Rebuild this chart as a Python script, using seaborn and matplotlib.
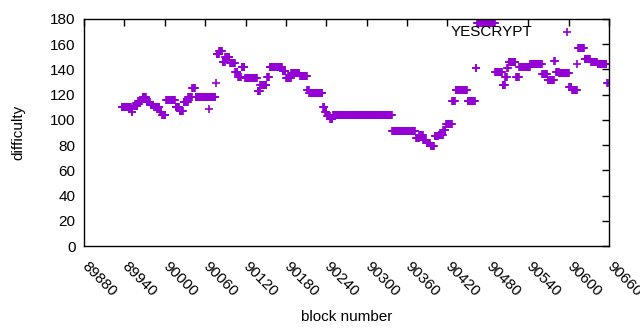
import numpy as np
import pandas as pd
import matplotlib
matplotlib.use("Agg")
import matplotlib.pyplot as plt
import seaborn as sns

# Runs of constant difficulty: first block of each run and its value
run_start = [89936, 89951, 89953, 89960, 89967, 89973, 89979, 89984, 89993, 89996,
             90002, 90016, 90022, 90028, 90035, 90041, 90046, 90065, 90066, 90076,
             90077, 90081, 90086, 90090, 90097, 90105, 90109, 90114, 90119, 90138,
             90142, 90152, 90156, 90175, 90180, 90188, 90201, 90212, 90215, 90235,
             90238, 90241, 90246, 90250, 90338, 90373, 90378, 90384, 90389, 90395,
             90401, 90407, 90414, 90418, 90427, 90432, 90450, 90462, 90464, 90491,
             90502, 90506, 90509, 90511, 90522, 90527, 90543, 90561, 90569, 90579,
             90581, 90586, 90601, 90605, 90613, 90614, 90624, 90633, 90643, 90657]
run_value = [110, 106, 111, 115, 118, 114, 112, 110, 106, 104,
             116, 110, 107, 114, 118, 125, 118, 109, 118, 129,
             152, 155, 146, 150, 145, 138, 134, 142, 133, 123,
             128, 134, 142, 139, 133, 137, 135, 124, 121, 110,
             106, 103, 101, 104, 91, 86, 88, 84, 82, 79,
             87, 88, 92, 97, 115, 124, 115, 141, 177, 138,
             128, 134, 141, 146, 134, 142, 144, 136, 132, 147,
             138, 137, 126, 124, 144, 157, 148, 146, 144, 129]
last_block = 90658

x_ticks = list(range(89880, 90661, 60))
y_ticks = list(range(0, 181, 20))
series_name = "YESCRYPT"

lengths = np.diff(run_start + [last_block + 1])
blocks = np.arange(run_start[0], last_block + 1)
difficulty = np.repeat(run_value, lengths)
df = pd.DataFrame({"block": blocks, "difficulty": difficulty})

sns.set_style("white")
plt.rcParams["font.family"] = ["Liberation Sans", "DejaVu Sans"]
plt.rcParams["text.color"] = "black"
plt.rcParams["axes.labelcolor"] = "black"
plt.rcParams["xtick.color"] = "black"
plt.rcParams["ytick.color"] = "black"

fig = plt.figure(figsize=(6.4, 3.3), dpi=100)
ax = fig.add_axes([84 / 640, 1 - 246 / 330, 525 / 640, 227 / 330])

purple = "#9400D3"
sns.scatterplot(data=df, x="block", y="difficulty", color=purple,
                marker="+", s=32, linewidth=1.2, ax=ax, legend=False)

ax.set_xlim(89880, 90660)
ax.set_ylim(0, 180)
ax.set_xticks(x_ticks)
ax.set_yticks(y_ticks)
ax.set_xticklabels([str(t) for t in x_ticks], rotation=-45, ha="left", va="center",
                   rotation_mode="anchor", fontsize=11)
ax.set_yticklabels([str(t) for t in y_ticks], fontsize=11)
ax.tick_params(direction="in", length=5, width=1, top=True, right=True,
               labeltop=False, labelright=False, color="black", labelcolor="black")
ax.tick_params(axis="x", pad=13)
ax.tick_params(axis="y", pad=6)
for sp in ax.spines.values():
    sp.set_color("black")
    sp.set_linewidth(1)

ax.set_xlabel("block number", fontsize=11, labelpad=8, color="black")
ax.set_ylabel("difficulty", fontsize=11, labelpad=18, color="black")

leg = ax.legend(handles=[ax.collections[0]], labels=[series_name],
                loc="upper right", bbox_to_anchor=(503 / 525, 0.975), frameon=False,
                markerfirst=False, handlelength=2.6, handletextpad=1.0,
                borderpad=0, borderaxespad=0, fontsize=11, scatterpoints=1,
                labelcolor="black")

fig.savefig("out.png", dpi=100)
